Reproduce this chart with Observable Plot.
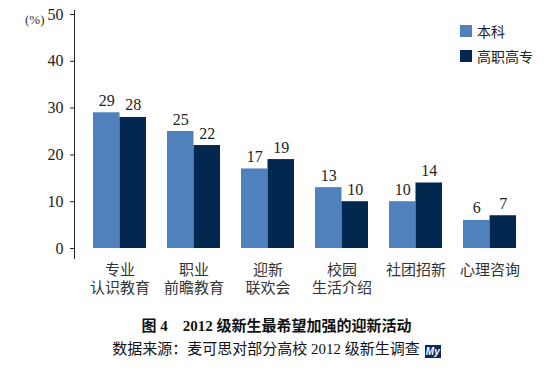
<!DOCTYPE html>
<html><head><meta charset="utf-8">
<script src="https://cdn.jsdelivr.net/npm/d3@7"></script>
<script src="https://cdn.jsdelivr.net/npm/@observablehq/plot@0.6"></script>
<style>
body{margin:0;background:#fff;font-family:"Liberation Serif","Noto Sans CJK SC",serif;}
#wrap{position:relative;width:553px;height:376px;overflow:hidden;}
#legend{position:absolute;left:460px;top:24px;font-size:14px;color:#222;}
#legend div{display:flex;align-items:center;height:13px;margin-bottom:12px;}
#legend span.sw{display:inline-block;width:12px;height:12px;margin-right:5px;}
#cap1{position:absolute;left:0;width:553px;top:316px;text-align:center;font-weight:bold;font-size:15px;line-height:20px;color:#111;}
#cap2{position:absolute;left:0;width:553px;top:339px;text-align:center;font-size:15px;line-height:20px;color:#111;}
#logo{display:inline-block;background:#0b2a5c;color:#fff;font:italic bold 10px "Liberation Sans",sans-serif;width:16px;height:13px;line-height:13px;text-align:center;vertical-align:-1px;margin-left:5px;}
</style></head>
<body><div id="wrap"></div>
<script>
const categories = ["专业\n认识教育","职业\n前瞻教育","迎新\n联欢会","校园\n生活介绍","社团招新","心理咨询"];
const benke = [29,25,17,13,10,6];
const gaozhi = [28,22,19,10,14,7];
const yTicks = [0,10,20,30,40,50];
const seriesNames = ["本科","高职高专"];
const colors = ["#4f81bd","#03284f"];

const dataB = categories.map((c,i)=>({c, v: benke[i]}));
const dataG = categories.map((c,i)=>({c, v: gaozhi[i]}));
const half = 26.5;

const chart = Plot.plot({
  width: 553, height: 300,
  marginLeft: 74, marginRight: 20, marginTop: 10, marginBottom: 42,
  style: {fontFamily: '"Liberation Serif","Noto Sans CJK SC",serif', color: "#222", background: "#fff"},
  x: {domain: categories, range: [80.5, 527.5], paddingInner: 0.29, paddingOuter: 0.145},
  y: {domain: [0, 50], range: [248, 14]},
  marks: [
    Plot.barY(dataB, {x: "c", y: "v", fill: colors[0], insetRight: half}),
    Plot.barY(dataG, {x: "c", y: "v", fill: colors[1], insetLeft: half}),
    Plot.text(dataB, {x: "c", y: "v", text: d => String(d.v), dx: -half/2, dy: -7, lineAnchor: "bottom", fontSize: 16, fill: "#222"}),
    Plot.text(dataG, {x: "c", y: "v", text: d => String(d.v), dx: half/2, dy: -7, lineAnchor: "bottom", fontSize: 16, fill: "#222"}),
    Plot.axisY({ticks: yTicks, tickSize: 4, tickPadding: 7, fontSize: 16, label: null, stroke: "#222"}),
    Plot.axisX({tickSize: 0, tickPadding: 4, fontSize: 15, label: null, lineHeight: 1.2, fill: "#333"}),
    Plot.frame({anchor: "left", stroke: "#222"}),
    Plot.text(["(%)"], {frameAnchor: "top-left", dx: -30, dy: 4, fontSize: 13, textAnchor: "end", fill: "#333", letterSpacing: 1.5})
  ]
});
const wrap = document.getElementById("wrap");
wrap.appendChild(chart);
const lg = document.createElement("div"); lg.id = "legend";
lg.innerHTML = seriesNames.map((n,i)=>`<div><span class="sw" style="background:${colors[i]}"></span>${n}</div>`).join("");
wrap.appendChild(lg);
const c1 = document.createElement("div"); c1.id="cap1"; c1.textContent = "图 4　2012 级新生最希望加强的迎新活动"; wrap.appendChild(c1);
const c2 = document.createElement("div"); c2.id="cap2"; c2.innerHTML = "数据来源：麦可思对部分高校 2012 级新生调查<span id='logo'>My</span>"; wrap.appendChild(c2);
</script></body></html>
